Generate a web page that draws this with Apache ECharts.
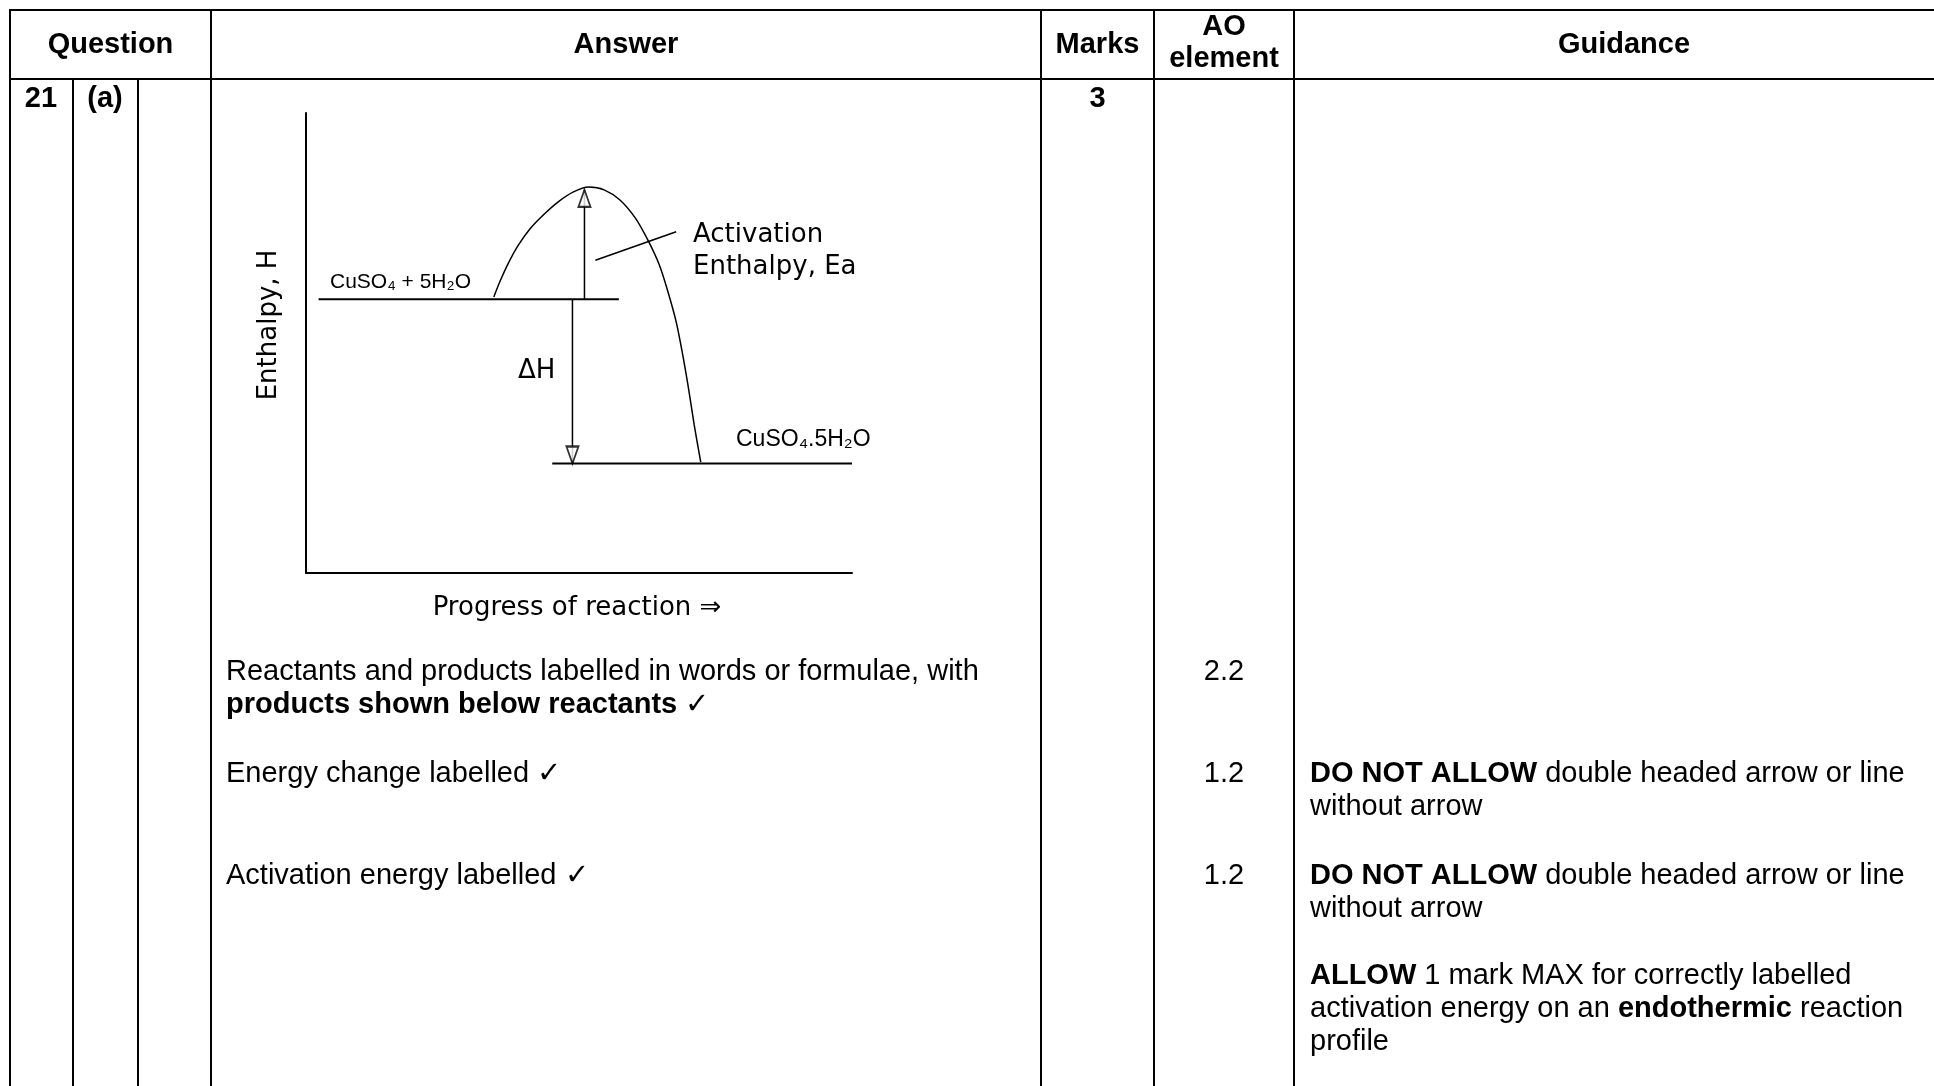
<!DOCTYPE html>
<html><head><meta charset="utf-8">
<script src="https://cdn.jsdelivr.net/npm/echarts@6/dist/echarts.min.js"></script>
<style>html,body{margin:0;padding:0;background:#fff}#c{width:1934px;height:1086px}</style>
</head><body><div id="c"></div>
<script>
// ---- table text ----
const headers = ['Question', 'Answer', 'Marks', 'AO', 'element', 'Guidance'];
const questionNo = '21';
const questionPart = '(a)';
const totalMarks = '3';
const answerLines = [
  'Reactants and products labelled in words or formulae, with',
  '{b|products shown below reactants} ✓',
  'Energy change labelled ✓',
  'Activation energy labelled ✓'
];
const aoElements = ['2.2', '1.2', '1.2'];
const guidanceLines = [
  '{b|DO NOT ALLOW} double headed arrow or line',
  'without arrow',
  '{b|DO NOT ALLOW} double headed arrow or line',
  'without arrow',
  '{b|ALLOW} 1 mark MAX for correctly labelled',
  'activation energy on an {b|endothermic} reaction',
  'profile'
];

// ---- diagram data (progress 0-100, enthalpy 0-100) ----
const levelNames = ['CuSO₄ + 5H₂O', 'CuSO₄.5H₂O'];
const levelEnthalpy = [59.5, 23.8];
const levelStart = [2.3, 45.1];
const levelEnd = [57.3, 100];
const profileProgress = [34.4, 35.5, 37.0, 38.8, 41.0, 43.6, 46.2, 48.9, 51.8, 54.6, 57.5, 60.3, 62.6, 64.7, 66.3, 67.8, 69.0, 70.1, 71.1, 72.3];
const profileEnthalpy = [60.0, 63.3, 67.2, 71.1, 74.8, 78.0, 80.7, 82.8, 83.9, 83.3, 81.1, 77.2, 72.4, 67.0, 61.1, 54.6, 47.4, 39.8, 32.2, 24.1];
const eaArrow = [51.0, 59.5, 83.3];   // progress, from, to
const dhArrow = [48.8, 59.5, 23.8];   // progress, from, to
const pointerProgress = [53.0, 67.8];
const pointerEnthalpy = [68.0, 74.2];
const diagramLabels = ['Activation', 'Enthalpy, Ea', 'ΔH', 'Enthalpy, H', 'Progress of reaction ⇒'];

// ---- layout ----
const F = "'Liberation Sans', Arial, sans-serif";
const FD = "'DejaVu Sans', sans-serif";
const colX = [10, 73, 138, 211, 1041, 1154, 1294];
const topY = 10, headY = 79, W = 1934, H = 1086;

function txt(x, y, text, opt) {
  const st = Object.assign({
    text: text, fill: '#000', fontSize: 29, fontFamily: F, fontWeight: 'normal',
    align: 'left', verticalAlign: 'middle', textAlign: 'left', textVerticalAlign: 'middle',
    rich: { b: { fontWeight: 'bold', fontSize: 29, fontFamily: F, fill: '#000' } }
  }, opt || {});
  if (opt && opt.align) st.textAlign = opt.align;
  return { type: 'text', x: x, y: y, silent: true, z: 10, style: st, rotation: (opt && opt.rot) || 0 };
}
function ln(x1, y1, x2, y2) {
  return { type: 'line', silent: true, z: 10, shape: { x1: x1, y1: y1, x2: x2, y2: y2 }, style: { stroke: '#000', lineWidth: 2 } };
}

const graphics = [];
graphics.push(ln(colX[0], topY, W, topY));
graphics.push(ln(colX[0], headY, W, headY));
colX.forEach(function (x, i) {
  graphics.push(ln(x, (i === 1 || i === 2) ? headY : topY - 1, x, H));
});
const B = { fontWeight: 'bold' };
graphics.push(txt((colX[0] + colX[3]) / 2, 45, headers[0], Object.assign({ align: 'center' }, B)));
graphics.push(txt((colX[3] + colX[4]) / 2, 45, headers[1], Object.assign({ align: 'center' }, B)));
graphics.push(txt((colX[4] + colX[5]) / 2, 45, headers[2], Object.assign({ align: 'center' }, B)));
graphics.push(txt((colX[5] + colX[6]) / 2, 27, headers[3], Object.assign({ align: 'center' }, B)));
graphics.push(txt((colX[5] + colX[6]) / 2, 59, headers[4], Object.assign({ align: 'center' }, B)));
graphics.push(txt(1624, 45, headers[5], Object.assign({ align: 'center' }, B)));
graphics.push(txt(41, 99, questionNo, Object.assign({ align: 'center' }, B)));
graphics.push(txt(105, 99, questionPart, Object.assign({ align: 'center' }, B)));
graphics.push(txt((colX[4] + colX[5]) / 2, 99, totalMarks, Object.assign({ align: 'center' }, B)));

const answerY = [672, 704.5, 774, 875.5];
answerLines.forEach(function (t, i) { graphics.push(txt(226, answerY[i], t)); });
const aoY = [672, 774, 875.5];
aoElements.forEach(function (t, i) { graphics.push(txt((colX[5] + colX[6]) / 2, aoY[i], t, { align: 'center' })); });
const guideY = [774, 807, 875.5, 908.5, 975.5, 1008.5, 1041.5];
guidanceLines.forEach(function (t, i) { graphics.push(txt(1310, guideY[i], t)); });

// diagram labels
graphics.push(txt(330, 282, levelNames[0], { fontSize: 21 }));
graphics.push(txt(736, 440, levelNames[1], { fontSize: 23 }));
graphics.push(txt(693, 235, diagramLabels[0], { fontSize: 26, fontFamily: FD }));
graphics.push(txt(693, 267, diagramLabels[1], { fontSize: 26, fontFamily: FD }));
graphics.push(txt(518, 371, diagramLabels[2], { fontSize: 26, fontFamily: FD }));
graphics.push(txt(269, 325, diagramLabels[3], { fontSize: 26, fontFamily: FD, align: 'center', rot: Math.PI / 2 }));
graphics.push(txt(577, 608.5, diagramLabels[4], { fontSize: 26, fontFamily: FD, align: 'center' }));

// ---- series ----
const black = '#000';
const series = [];
levelEnthalpy.forEach(function (h, i) {
  series.push({ type: 'line', symbol: 'none', silent: true, data: [[levelStart[i], h], [levelEnd[i], h]],
    lineStyle: { color: black, width: 2 } });
});
series.push({ type: 'line', symbol: 'none', silent: true, smooth: 0.3,
  data: profileProgress.map(function (p, i) { return [p, profileEnthalpy[i]]; }),
  lineStyle: { color: black, width: 1.5 } });
series.push({ type: 'line', symbol: 'none', silent: true,
  data: [[eaArrow[0], eaArrow[1]], [eaArrow[0], eaArrow[2]]], lineStyle: { color: black, width: 1.5 } });
series.push({ type: 'line', symbol: 'none', silent: true,
  data: [[dhArrow[0], dhArrow[1]], [dhArrow[0], dhArrow[2]]], lineStyle: { color: black, width: 1.5 } });
series.push({ type: 'line', symbol: 'none', silent: true,
  data: [[pointerProgress[0], pointerEnthalpy[0]], [pointerProgress[1], pointerEnthalpy[1]]],
  lineStyle: { color: black, width: 1.5 } });
series.push({ type: 'scatter', silent: true, z: 5, symbol: 'emptyTriangle', symbolSize: [12, 17],
  itemStyle: { color: black, borderWidth: 1.5 },
  data: [
    { value: [eaArrow[0], eaArrow[2]], symbolOffset: [0, 8.5] },
    { value: [dhArrow[0], dhArrow[2]], symbolOffset: [0, -8.5], symbolRotate: 180 }
  ] });

const axisCommon = {
  type: 'value', min: 0, max: 100,
  axisLine: { show: true, onZero: false, lineStyle: { color: black, width: 2 } },
  axisTick: { show: false }, axisLabel: { show: false }, splitLine: { show: false }
};

const chart = echarts.init(document.getElementById('c'), null, { renderer: 'canvas' });
chart.setOption({
  backgroundColor: '#fff',
  animation: false,
  grid: { left: 306, top: 113, width: 546, height: 460, containLabel: false },
  xAxis: axisCommon,
  yAxis: axisCommon,
  series: series,
  graphic: graphics
});
</script></body></html>
